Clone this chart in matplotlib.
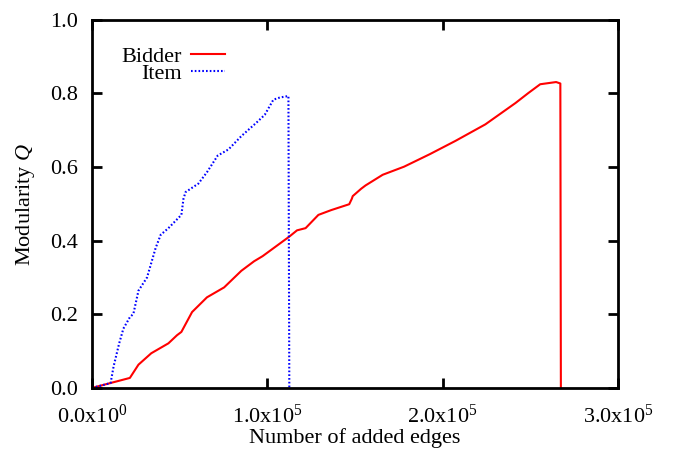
import matplotlib
matplotlib.use("Agg")
import matplotlib.pyplot as plt
from matplotlib.ticker import FixedLocator, FuncFormatter

plt.rcParams['font.family'] = ['Liberation Serif', 'DejaVu Serif']
plt.rcParams['mathtext.fontset'] = 'custom'
plt.rcParams['mathtext.rm'] = 'Liberation Serif'
plt.rcParams['mathtext.it'] = 'Liberation Serif:italic'

bidder_x = [0, 21500, 26400, 33700, 43500, 48400, 50900, 57000, 65500, 75300, 85100,
            92400, 97300, 112500, 116900, 121800, 129100, 136400, 146700, 148200, 148700,
            153500, 156000, 165800, 178000, 192700, 207300, 224400, 241600, 248900,
            255700, 264800, 267200, 267500]
bidder_y = [0.0, 0.027, 0.063, 0.094, 0.121, 0.143, 0.152, 0.206, 0.246, 0.273, 0.318,
            0.344, 0.358, 0.411, 0.428, 0.434, 0.470, 0.483, 0.499, 0.514, 0.521,
            0.541, 0.550, 0.579, 0.601, 0.635, 0.671, 0.716, 0.774, 0.801,
            0.825, 0.831, 0.827, 0.0]

item_x = [0, 10500, 12200, 15400, 17800, 21500, 23500, 26400, 31300, 36200, 39100,
          43500, 50900, 52100, 53300, 60600, 65500, 71600, 77800, 85100, 93600, 98500,
          103400, 107100, 112000, 112500]
item_y = [0.0, 0.013, 0.058, 0.121, 0.161, 0.192, 0.201, 0.264, 0.300, 0.380, 0.416,
          0.434, 0.470, 0.514, 0.532, 0.555, 0.586, 0.631, 0.648, 0.684, 0.720, 0.742,
          0.783, 0.789, 0.793, 0.0]

x_ticks = [0, 100000, 200000, 300000]
x_tick_labels = [r'0.0x10$^{0}$', r'1.0x10$^{5}$', r'2.0x10$^{5}$', r'3.0x10$^{5}$']
y_ticks = [0.0, 0.2, 0.4, 0.6, 0.8, 1.0]

fig = plt.figure(figsize=(6.73, 4.51), dpi=100)
ax = fig.add_axes([0.137, 0.140, 0.781, 0.816])

ax.plot(bidder_x, bidder_y, color='#ff0000', lw=1.5, label='Bidder')
ax.plot(item_x, item_y, color='#0000ff', lw=1.5, linestyle=(0, (0.8, 1.0)), label='Item')

ax.set_xlim(0, 300000)
ax.set_ylim(0, 1.0)
ax.xaxis.set_major_locator(FixedLocator(x_ticks))
ax.set_xticklabels(x_tick_labels)
ax.yaxis.set_major_locator(FixedLocator(y_ticks))
ax.yaxis.set_major_formatter(FuncFormatter(lambda v, p: f'{v:.1f}'))

ax.tick_params(direction='in', length=7.5, width=2, top=True, right=True,
               labelsize=16)
ax.tick_params(axis='y', pad=10)
ax.tick_params(axis='x', pad=12)
for s in ax.spines.values():
    s.set_linewidth(2)

ax.set_xlabel('Number of added edges', fontsize=16, labelpad=0.5)
ax.set_ylabel(r'Modularity $Q$', fontsize=16, labelpad=10)

leg = ax.legend(loc='upper left', bbox_to_anchor=(0.055, 0.928), frameon=False,
                fontsize=16, markerfirst=False, handlelength=1.5, handletextpad=0.45,
                labelspacing=-0.15, borderaxespad=0, borderpad=0)
for t in leg.get_texts():
    t.set_ha('right')
leg._legend_box.align = 'right'

fig.savefig('out.png', dpi=100)
